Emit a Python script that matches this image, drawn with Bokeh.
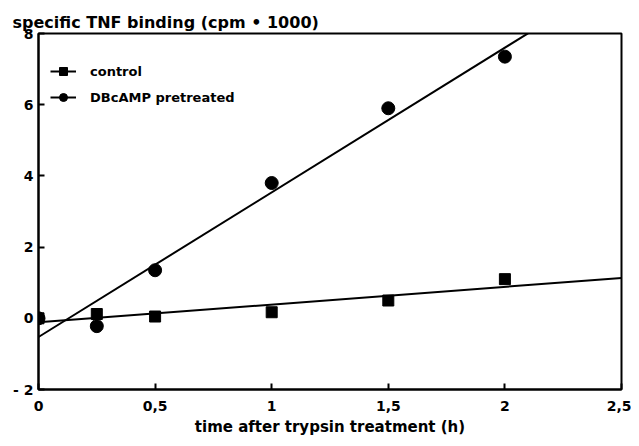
import numpy as np
from bokeh.plotting import figure
from bokeh.models import Legend, LegendItem, CustomJSTickFormatter, FixedTicker, Range1d
from bokeh.embed import file_html
from bokeh.resources import INLINE

# data
time_h = [0, 0.25, 0.5, 1, 1.5, 2]
control = [0, 0.12, 0.05, 0.17, 0.5, 1.1]
dbcamp = [0, -0.22, 1.35, 3.8, 5.9, 7.35]
x_ticks = [0, 0.5, 1, 1.5, 2, 2.5]
y_ticks = [-2, 0, 2, 4, 6, 8]
fit_x = [0, 2.5]

FONT = "DejaVu Sans"

p = figure(width=631, height=438, output_backend="svg", toolbar_location=None,
           x_range=Range1d(0, 2.5), y_range=Range1d(-2, 8),
           min_border_left=38, min_border_right=10, min_border_top=33, min_border_bottom=48)

p.title.text = "specific TNF binding (cpm \u2022 1000)"
p.title.text_font = FONT
p.title.text_font_style = "bold"
p.title.text_font_size = "16px"
p.title.text_color = "black"
p.title.align = "left"
p.title.offset = -26
p.title.standoff = 4

p.outline_line_color = "black"
p.outline_line_width = 2
p.xgrid.visible = False
p.ygrid.visible = False

fmt = CustomJSTickFormatter(code="return tick.toString().replace('.', ',').replace('-', '- ');")
for ax in (p.xaxis[0], p.yaxis[0]):
    ax.formatter = fmt
    ax.axis_line_width = 2
    ax.axis_line_color = "black"
    ax.major_tick_in = 6
    ax.major_tick_out = 0
    ax.major_tick_line_width = 2
    ax.minor_tick_line_color = None
    ax.major_label_text_font = FONT
    ax.major_label_text_font_style = "bold"
    ax.major_label_text_font_size = "14px"
    ax.major_label_text_color = "black"
p.xaxis.ticker = FixedTicker(ticks=x_ticks)
p.yaxis.ticker = FixedTicker(ticks=y_ticks)
p.xaxis.major_label_standoff = 11
p.yaxis.major_label_standoff = 5
p.xaxis.axis_label = "time after trypsin treatment (h)"
p.xaxis.axis_label_text_font = FONT
p.xaxis.axis_label_text_font_style = "bold"
p.xaxis.axis_label_text_font_size = "15px"
p.xaxis.axis_label_text_color = "black"
p.xaxis.axis_label_standoff = 4

c_fit = np.polyfit(time_h, control, 1)
d_fit = np.polyfit(time_h, dbcamp, 1)

l1 = p.line(fit_x, list(np.polyval(c_fit, fit_x)), line_color="black", line_width=2)
l2 = p.line(fit_x, list(np.polyval(d_fit, fit_x)), line_color="black", line_width=2)
s1 = p.scatter(time_h, control, marker="square", size=11, fill_color="black", line_color="black")
s2 = p.scatter(time_h, dbcamp, marker="circle", size=13, fill_color="black", line_color="black")

legend = Legend(items=[LegendItem(label="control", renderers=[l1, s1]),
                       LegendItem(label="DBcAMP pretreated", renderers=[l2, s2])],
                location=(12, 282))
legend.border_line_color = None
legend.background_fill_alpha = 0
legend.label_text_font = FONT
legend.label_text_font_style = "bold"
legend.label_text_font_size = "13px"
legend.label_text_color = "black"
legend.glyph_width = 26
legend.label_standoff = 14
legend.spacing = 6
legend.margin = 0
legend.padding = 8
p.add_layout(legend)

open("out.html", "w").write(file_html(p, INLINE))
